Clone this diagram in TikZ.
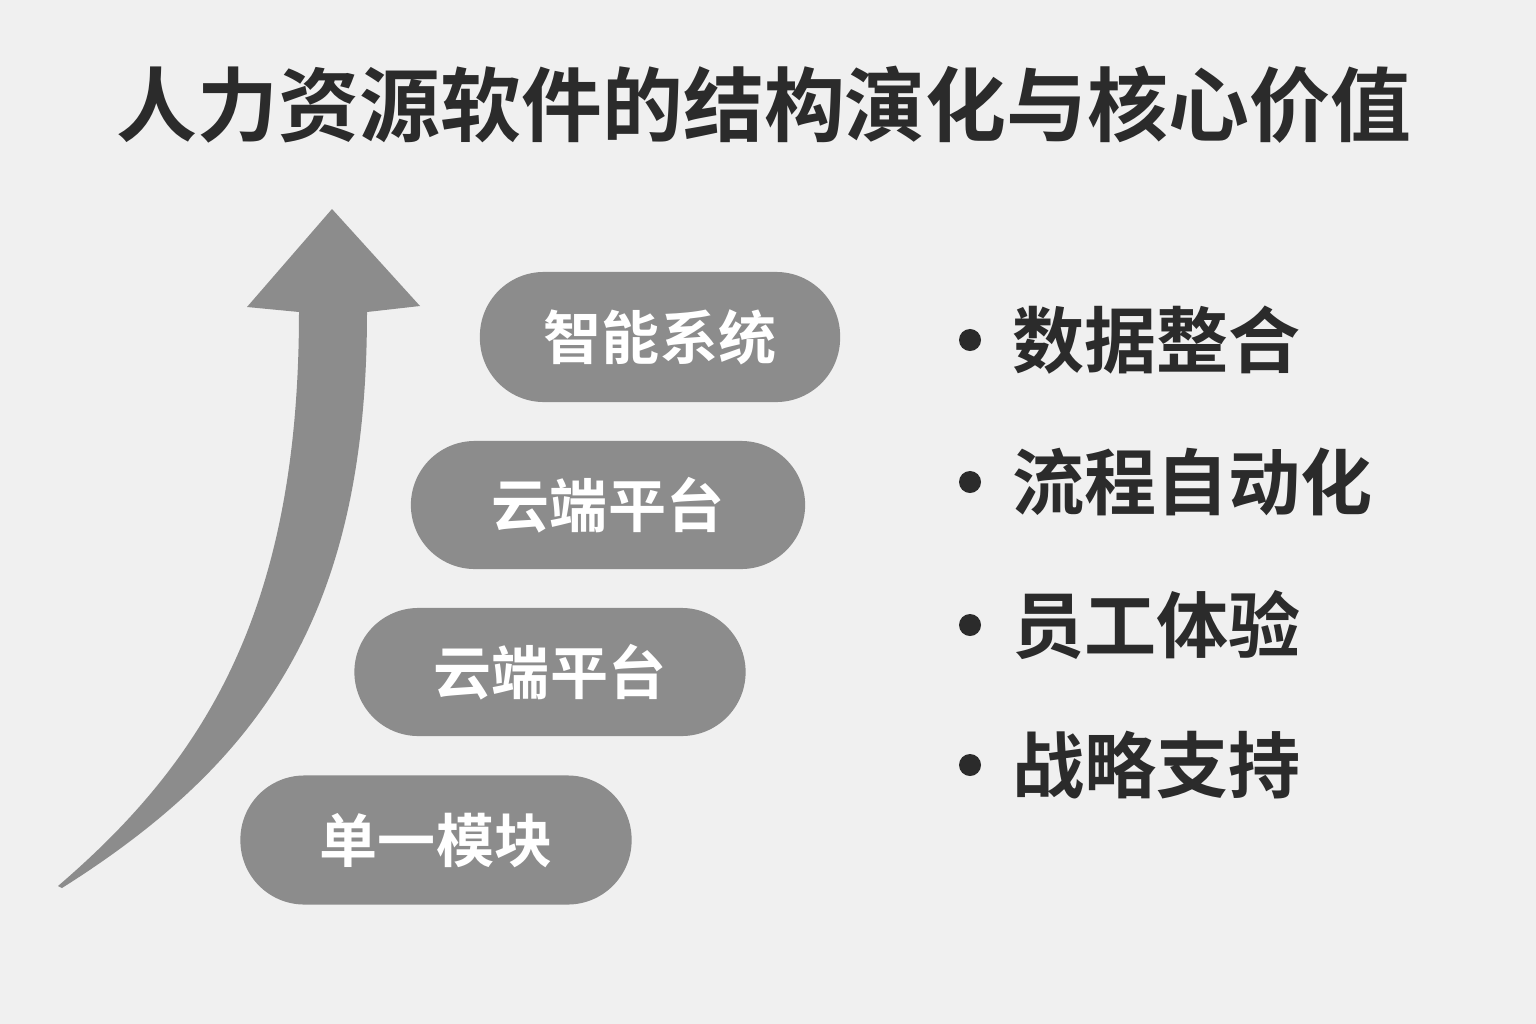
\documentclass[tikz,border=0pt]{standalone}
\usepackage{fontspec}
\usepackage{tikz}
\usetikzlibrary{positioning}
\setmainfont{Noto Sans CJK SC}
\newfontfamily\cjkbold{Noto Sans CJK SC Bold}
\definecolor{bgc}{HTML}{F0F0F0}
\definecolor{pillc}{HTML}{8C8C8C}
\definecolor{inkc}{HTML}{2B2B2B}
\begin{document}
\begin{tikzpicture}[x=0.01cm, y=-0.01cm,
	pill/.style={fill=pillc, rounded corners=0.64cm, minimum width=3.9cm, minimum height=1.28cm, text=white, font=\cjkbold\fontsize{16.5pt}{20pt}\selectfont, inner sep=0pt},
	dot/.style={circle, fill=inkc, minimum size=0.22cm, inner sep=0pt},
	item/.style={text=inkc, font=\cjkbold\fontsize{20.5pt}{24pt}\selectfont, inner sep=0pt, anchor=west}]
	\fill [bgc] (0,0) rectangle (1536,1024);
	\useasboundingbox (0,0) rectangle (1536,1024);
	\node [text=inkc, font=\cjkbold\fontsize{23pt}{27pt}\selectfont] (title) at (764,105) {人力资源软件的结构演化与核心价值};
	% rising arrow
	\fill [pillc] (58,886) .. controls (205,760) and (299,610) .. (299,312) -- (247,307) -- (332,209) -- (420,306) -- (367,312) .. controls (367,610) and (265,760) .. (62,888) -- cycle;
	% stages
	\node [pill, minimum width=3.6cm, minimum height=1.3cm] (s4) at (660,337) {智能系统};
	\node [pill, minimum width=3.94cm] (s3) at (608,505) {云端平台};
	\node [pill, minimum width=3.91cm] (s2) at (550,672) {云端平台};
	\node [pill, minimum width=3.91cm, minimum height=1.29cm] (s1) at (436,840) {单一模块};
	% values
	\node [dot] (d1) at (970,340) {};
	\node [item, right=0.3cm of d1] (v1) {数据整合};
	\node [dot] (d2) at (970,482) {};
	\node [item, right=0.3cm of d2] (v2) {流程自动化};
	\node [dot] (d3) at (970,625) {};
	\node [item, right=0.3cm of d3] (v3) {员工体验};
	\node [dot] (d4) at (970,765) {};
	\node [item, right=0.3cm of d4] (v4) {战略支持};
\end{tikzpicture}
\end{document}
